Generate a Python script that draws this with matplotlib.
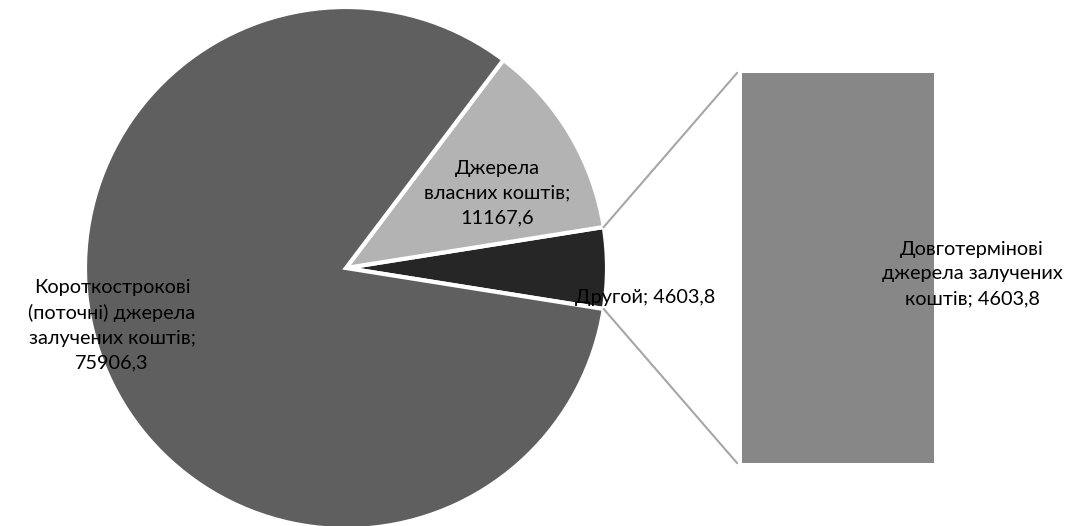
import numpy as np
import matplotlib.pyplot as plt

# data
pie_labels = ['Другой', 'Джерела\nвласних коштів', 'Короткострокові\n(поточні) джерела\nзалучених коштів']
pie_values = [4603.8, 11167.6, 75906.3]
pie_colors = ['#262626', '#b3b3b3', '#5f5f5f']
bar_labels = ['Довготермінові\nджерела залучених\nкоштів']
bar_values = [4603.8]
bar_colors = ['#878787']

def fmt(v):
    return f'{v:.1f}'.replace('.', ',')

plt.rcParams['font.family'] = ['Lato', 'DejaVu Sans']
fs = 14.3
ls = 1.55

W, H = 1085, 526
fig = plt.figure(figsize=(W / 100, H / 100), dpi=100)
ax = fig.add_axes([0, 0, 1, 1])

# pie, centred on the small slice
cx, cy, r = 346, 258, 261
total = sum(pie_values)
start = -pie_values[0] / total * 360 / 2
wedges, _ = ax.pie(pie_values, colors=pie_colors, startangle=start, counterclock=True,
                   center=(cx, cy), radius=r, frame=True,
                   wedgeprops=dict(edgecolor='white', linewidth=3))

# bar for the split-off part
bx, bw = 742, 192
btop = 453
scale = 390 / sum(bar_values)
bottom = btop - scale * sum(bar_values)
for lab, v, c in zip(bar_labels, bar_values, bar_colors):
    ax.bar(bx + bw / 2, v * scale, width=bw, bottom=bottom, color=c, edgecolor='none')
    ax.text(972, bottom + v * scale / 2 - 6, lab + '; ' + fmt(v), ha='center', va='center',
            fontsize=fs, linespacing=ls)
    bottom += v * scale

# connector lines from slice edges to bar corners
a1 = np.radians(start)
a2 = np.radians(start + pie_values[0] / total * 360)
ax.plot([cx + r * np.cos(a2), bx - 5], [cy + r * np.sin(a2), btop], color='#a6a6a6', lw=1.5)
ax.plot([cx + r * np.cos(a1), bx - 5], [cy + r * np.sin(a1), btop - 390], color='#a6a6a6', lw=1.5)

# pie labels
ax.text(645, 229, pie_labels[0] + '; ' + fmt(pie_values[0]), ha='center', va='center', fontsize=fs)
ax.text(497, 333, pie_labels[1] + ';\n' + fmt(pie_values[1]), ha='center', va='center',
        fontsize=fs, linespacing=ls)
ax.text(112, 201, pie_labels[2] + ';\n' + fmt(pie_values[2]), ha='center', va='center',
        fontsize=fs, linespacing=ls)

ax.set_xlim(0, W)
ax.set_ylim(0, H)
ax.set_aspect('equal')
ax.axis('off')

fig.savefig('out.png', dpi=100)
